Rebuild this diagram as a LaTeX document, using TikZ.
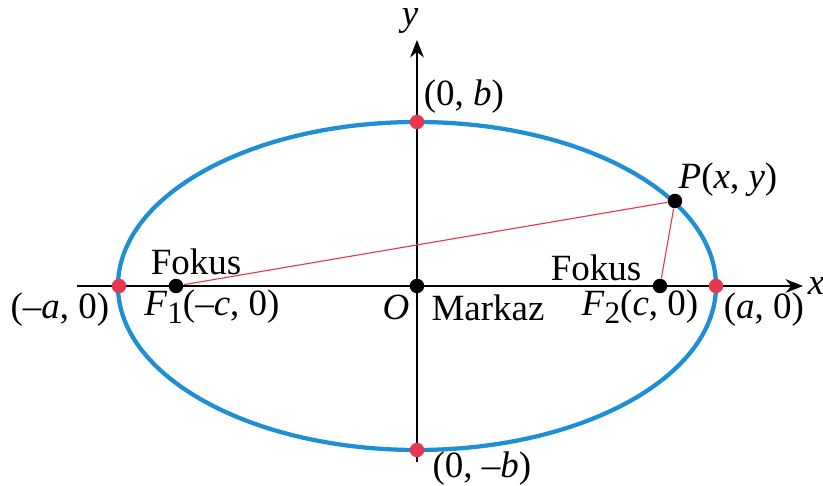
\documentclass[tikz,border=0pt]{standalone}
\usepackage{fontspec}
\setmainfont{Liberation Serif}
\usetikzlibrary{arrows.meta,positioning}
\definecolor{ell}{HTML}{1E8FD5}
\definecolor{pt}{HTML}{E8384F}
\def\lowsub#1{\raisebox{-0.45ex}{\fontsize{12.5}{13}\selectfont#1}}

\begin{document}
\begin{tikzpicture}[x=0.4pt,y=-0.4pt,font=\fontsize{14.8}{16}\selectfont,
  dot/.style={circle,fill=black,inner sep=0pt,minimum size=5.8pt},
  vertex/.style={circle,fill=pt,inner sep=0pt,minimum size=5.8pt},
  axis/.style={-{Stealth[length=7pt,width=5.5pt]},line width=0.5pt},
  seg/.style={draw=pt,line width=0.45pt},
  lbl/.style={inner sep=0pt}]
  \useasboundingbox (0,0) rectangle (823,486);
  % axes
  \coordinate (O) at (417,286);
  \coordinate (xs) at (77,286); \coordinate (xe) at (803,286);
  \coordinate (ys) at (417,462); \coordinate (ye) at (417,40);
  \draw[axis] (xs) -- (xe);
  \draw[axis] (ys) -- (ye);
  \node[lbl] (xlab) at (816,286) {\textit{x}};
  \node[lbl] (ylab) at (410,21) {\textit{y}};
  % ellipse
  \draw[ell,line width=1.7pt] (O) ellipse [x radius=299,y radius=164];
  % foci and point
  \node[dot] (F1) at (176,286) {};
  \node[dot] (F2) at (660,286) {};
  \node[dot] (P) at (675,201) {};
  \node[dot] (c) at (O) {};
  \draw[seg] (F1) -- (P);
  \draw[seg] (F2) -- (P);
  % vertices
  \node[vertex] (A1) at (119,286) {};
  \node[vertex] (A2) at (716,286) {};
  \node[vertex] (B1) at (417,122) {};
  \node[vertex] (B2) at (417,450) {};
  % labels
  \node[lbl] (lA1) at (60,310) {(--\textit{a}, 0)};
  \node[lbl] (lA2) at (764,310) {(\textit{a}, 0)};
  \node[lbl] (lB1) at (464,97) {(0, \textit{b})};
  \node[lbl] (lB2) at (482,469) {(0, --\textit{b})};
  \node[lbl] (lP) at (728,180) {\textit{P}(\textit{x}, \textit{y})};
  \node[lbl] (fk1) at (196,262) {Fokus};
  \node[lbl] (fk2) at (596,268) {Fokus};
  \node[lbl] (lF1) at (212,307) {\textit{F}\lowsub{1}(--\textit{c}, 0)};
  \node[lbl] (lF2) at (640,307) {\textit{F}\lowsub{2}(\textit{c}, 0)};
  \node[lbl] (lO) at (396,307) {\textit{O}};
  \node[lbl] (mk) at (488,308) {Markaz};
\end{tikzpicture}
\end{document}
